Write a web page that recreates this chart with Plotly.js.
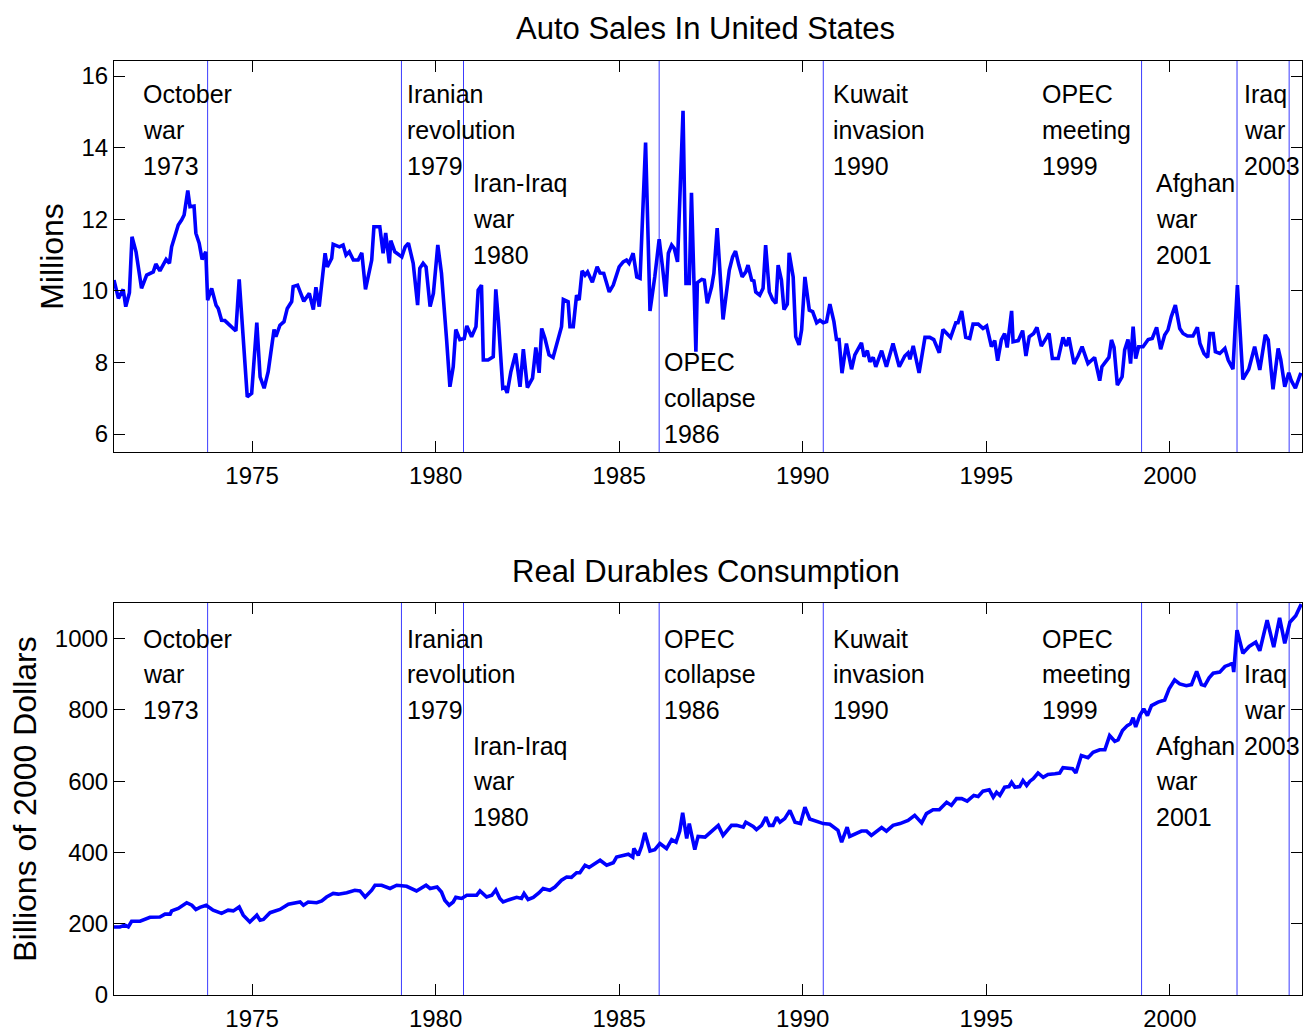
<!DOCTYPE html>
<html>
<head>
<meta charset="utf-8">
<script src="https://cdn.plot.ly/plotly-3.0.1.min.js"></script>
<style>html,body{margin:0;padding:0;background:#fff;}#chart{width:1303px;height:1033px;}</style>
</head>
<body>
<div id="chart"></div>
<script>
// ---- Data ----
const autoYear = [1971.24,1971.36,1971.49,1971.56,1971.66,1971.73,1971.84,1971.99,1972.13,1972.22,1972.31,1972.38,1972.49,1972.66,1972.75,1972.81,1972.90,1972.99,1973.08,1973.15,1973.25,1973.31,1973.42,1973.47,1973.56,1973.64,1973.74,1973.79,1973.90,1974.02,1974.08,1974.17,1974.26,1974.40,1974.56,1974.65,1974.75,1974.81,1974.87,1974.99,1975.13,1975.22,1975.33,1975.44,1975.60,1975.65,1975.76,1975.87,1975.96,1976.08,1976.12,1976.24,1976.41,1976.56,1976.67,1976.74,1976.83,1976.99,1977.05,1977.17,1977.21,1977.38,1977.48,1977.56,1977.65,1977.76,1977.89,1977.99,1978.09,1978.26,1978.32,1978.48,1978.57,1978.64,1978.74,1978.78,1978.89,1979.08,1979.17,1979.26,1979.39,1979.51,1979.57,1979.66,1979.74,1979.85,1979.94,1980.06,1980.16,1980.30,1980.39,1980.48,1980.55,1980.66,1980.78,1980.85,1980.98,1981.10,1981.16,1981.25,1981.30,1981.43,1981.57,1981.64,1981.71,1981.83,1981.89,1981.95,1982.05,1982.18,1982.30,1982.39,1982.50,1982.64,1982.73,1982.82,1982.89,1982.98,1983.09,1983.20,1983.43,1983.48,1983.61,1983.66,1983.75,1983.84,1983.91,1983.99,1984.07,1984.14,1984.27,1984.40,1984.48,1984.58,1984.73,1984.84,1985.00,1985.11,1985.20,1985.27,1985.38,1985.48,1985.57,1985.72,1985.84,1985.97,1986.09,1986.18,1986.27,1986.34,1986.43,1986.50,1986.59,1986.74,1986.82,1986.91,1986.97,1987.09,1987.13,1987.25,1987.32,1987.40,1987.52,1987.58,1987.67,1987.83,1988.00,1988.09,1988.17,1988.26,1988.35,1988.45,1988.51,1988.61,1988.67,1988.72,1988.83,1988.92,1988.99,1989.09,1989.18,1989.27,1989.33,1989.42,1989.49,1989.58,1989.63,1989.74,1989.81,1989.90,1989.97,1990.06,1990.18,1990.27,1990.38,1990.47,1990.56,1990.65,1990.74,1990.85,1990.92,1990.99,1991.07,1991.19,1991.33,1991.42,1991.60,1991.67,1991.76,1991.83,1991.92,1991.99,1992.15,1992.28,1992.46,1992.63,1992.78,1992.87,1992.92,1993.01,1993.17,1993.33,1993.46,1993.57,1993.72,1993.82,1993.93,1994.03,1994.17,1994.23,1994.33,1994.44,1994.55,1994.64,1994.78,1994.91,1995.01,1995.14,1995.23,1995.31,1995.41,1995.50,1995.57,1995.69,1995.73,1995.87,1995.99,1996.08,1996.17,1996.29,1996.38,1996.50,1996.59,1996.71,1996.80,1996.96,1997.09,1997.18,1997.25,1997.39,1997.50,1997.61,1997.77,1997.95,1998.09,1998.15,1998.34,1998.41,1998.48,1998.57,1998.70,1998.77,1998.86,1998.93,1999.00,1999.07,1999.15,1999.27,1999.41,1999.52,1999.64,1999.75,1999.86,1999.95,2000.04,2000.15,2000.27,2000.36,2000.48,2000.63,2000.75,2000.82,2000.93,2001.03,2001.09,2001.18,2001.24,2001.36,2001.50,2001.59,2001.72,2001.84,2001.99,2002.15,2002.31,2002.45,2002.60,2002.68,2002.81,2002.95,2003.02,2003.13,2003.24,2003.31,2003.42,2003.57];
const autoSales = [10.30,9.79,10.04,9.56,9.95,11.51,11.09,10.07,10.44,10.50,10.53,10.75,10.56,10.88,10.77,11.23,11.51,11.84,11.98,12.12,12.80,12.35,12.37,11.61,11.33,10.88,11.09,9.74,10.07,9.60,9.51,9.18,9.17,9.04,8.88,10.32,8.91,8.16,7.04,7.14,9.11,7.60,7.28,7.74,8.92,8.72,9.04,9.14,9.51,9.70,10.12,10.16,9.71,9.93,9.48,10.10,9.56,11.05,10.67,10.91,11.30,11.23,11.28,11.00,11.09,10.86,10.86,11.06,10.04,10.86,11.79,11.79,11.05,11.62,10.77,11.40,11.09,10.95,11.23,11.33,10.77,9.60,10.63,10.77,10.67,9.56,9.93,11.28,10.49,8.63,7.32,7.88,8.92,8.64,8.67,9.02,8.72,9.00,10.02,10.16,8.07,8.07,8.16,10.04,9.18,7.28,7.30,7.15,7.74,8.25,7.32,8.37,7.30,7.56,8.42,7.71,8.95,8.67,8.21,8.14,9.00,9.76,9.70,9.00,9.00,9.88,9.74,10.56,10.44,10.53,10.24,10.67,10.50,10.49,9.97,10.16,10.67,10.81,10.86,10.77,11.05,10.39,10.35,14.14,9.44,10.39,11.44,10.67,9.84,11.05,11.28,11.19,10.81,15.03,10.21,10.21,12.74,8.30,10.23,10.32,10.30,9.65,10.12,10.49,11.75,9.20,10.58,10.95,11.11,10.72,10.39,10.53,10.72,10.30,10.28,9.97,9.88,10.07,11.28,9.97,9.76,9.65,10.72,10.30,9.48,9.63,11.06,10.39,8.72,8.49,8.91,10.39,9.46,9.42,9.11,9.18,9.11,9.14,9.63,9.14,8.64,8.64,7.70,8.53,7.81,8.21,8.55,8.16,8.33,8.02,8.14,7.88,8.33,7.88,8.53,7.88,8.18,8.27,8.09,8.46,7.71,8.70,8.70,8.64,8.27,8.92,8.81,8.70,9.11,9.11,9.44,8.70,8.67,9.07,9.07,8.95,9.02,8.44,8.61,8.05,8.63,8.81,8.42,9.44,8.58,8.61,8.89,8.18,8.72,8.81,8.98,8.46,8.61,8.81,8.11,8.11,8.70,8.46,8.70,7.96,8.18,8.44,7.97,8.14,7.49,7.88,8.14,8.63,8.42,7.37,7.60,8.35,8.64,7.97,9.00,8.11,8.44,8.44,8.64,8.67,8.98,8.37,8.77,8.91,9.28,9.60,8.95,8.81,8.74,8.74,8.98,8.53,8.25,8.14,8.81,8.81,8.30,8.25,8.39,8.07,7.81,10.16,7.53,7.81,8.44,7.79,8.77,8.63,7.25,8.39,8.09,7.32,7.71,7.49,7.28,7.71];

const durYear = [1971.24,1971.40,1971.54,1971.63,1971.72,1971.95,1972.22,1972.49,1972.63,1972.77,1972.81,1972.99,1973.22,1973.36,1973.47,1973.58,1973.75,1973.94,1974.17,1974.35,1974.49,1974.65,1974.76,1974.94,1975.13,1975.22,1975.31,1975.49,1975.76,1975.99,1976.31,1976.40,1976.53,1976.76,1976.90,1977.03,1977.21,1977.35,1977.58,1977.80,1977.94,1978.08,1978.26,1978.35,1978.53,1978.67,1978.76,1978.94,1979.21,1979.48,1979.74,1979.85,1980.04,1980.16,1980.25,1980.37,1980.48,1980.55,1980.71,1980.85,1981.12,1981.21,1981.39,1981.53,1981.64,1981.75,1981.84,1982.02,1982.21,1982.34,1982.41,1982.52,1982.66,1982.82,1982.93,1983.11,1983.25,1983.43,1983.57,1983.70,1983.84,1983.93,1984.07,1984.18,1984.34,1984.48,1984.66,1984.84,1984.93,1985.11,1985.25,1985.37,1985.40,1985.52,1985.61,1985.70,1985.84,1985.97,1986.11,1986.29,1986.43,1986.55,1986.65,1986.73,1986.84,1986.91,1987.00,1987.06,1987.15,1987.34,1987.47,1987.70,1987.83,1988.06,1988.20,1988.38,1988.45,1988.65,1988.74,1988.88,1989.00,1989.09,1989.19,1989.29,1989.38,1989.51,1989.65,1989.79,1989.94,1990.06,1990.19,1990.38,1990.56,1990.74,1990.96,1991.06,1991.21,1991.28,1991.47,1991.60,1991.74,1991.87,1992.15,1992.28,1992.46,1992.65,1992.87,1993.05,1993.24,1993.37,1993.55,1993.72,1993.92,1994.05,1994.19,1994.33,1994.48,1994.66,1994.78,1994.91,1995.08,1995.19,1995.28,1995.37,1995.50,1995.62,1995.69,1995.78,1995.91,1996.00,1996.10,1996.19,1996.28,1996.41,1996.55,1996.68,1996.87,1997.00,1997.09,1997.23,1997.35,1997.44,1997.59,1997.77,1997.91,1998.09,1998.23,1998.36,1998.50,1998.59,1998.71,1998.84,1998.93,1999.00,1999.07,1999.18,1999.29,1999.39,1999.50,1999.68,1999.86,1999.98,2000.13,2000.27,2000.45,2000.59,2000.73,2000.86,2000.95,2001.07,2001.18,2001.36,2001.50,2001.63,2001.71,2001.74,2001.83,2001.99,2002.16,2002.34,2002.45,2002.65,2002.83,2002.99,2003.13,2003.27,2003.43,2003.58];
const durCons = [191,191,196,191,207,207,218,219,227,227,236,243,259,252,240,246,252,238,229,238,236,247,224,205,224,210,212,231,240,255,261,252,261,259,264,275,285,283,287,294,292,275,294,308,308,303,299,308,305,292,308,299,303,289,266,252,261,274,271,280,280,292,275,280,295,271,261,268,274,271,285,268,274,287,299,294,303,322,331,330,343,343,364,358,369,378,364,371,387,392,395,387,411,392,417,455,404,408,425,411,436,429,460,511,439,481,439,408,445,443,455,476,448,476,476,471,485,473,464,476,499,476,476,499,485,495,518,485,481,527,494,488,481,479,462,429,471,445,455,460,460,448,470,460,476,481,490,504,483,509,520,520,541,532,551,551,544,560,557,572,576,555,569,560,583,585,597,583,585,602,588,600,607,623,611,619,621,623,638,635,635,623,672,666,681,688,688,728,712,716,742,756,761,778,752,784,803,784,812,822,828,859,884,873,868,871,908,871,868,890,903,906,922,927,931,906,1024,959,978,990,966,1052,976,1058,987,1046,1064,1097];

// Events: date of vertical line and label lines
const eventYear = [1973.79, 1979.07, 1980.76, 1986.09, 1990.56, 1999.23, 2001.83, 2003.25];
const eventLabel = [
  ["October","war","1973"],
  ["Iranian","revolution","1979"],
  ["Iran-Iraq","war","1980"],
  ["OPEC","collapse","1986"],
  ["Kuwait","invasion","1990"],
  ["OPEC","meeting","1999"],
  ["Afghan","war","2001"],
  ["Iraq","war","2003"]
];
const xTickVals = [1975, 1980, 1985, 1990, 1995, 2000];
const topTickVals = [6, 8, 10, 12, 14, 16];
const botTickVals = [0, 200, 400, 600, 800, 1000];
const titleTop = "Auto Sales In United States";
const titleBot = "Real Durables Consumption";
const yTitleTop = "Millions";
const yTitleBot = "Billions of 2000 Dollars";

// ---- Placement (styling) ----
const labelX = [1972.0, 1979.2, 1981.0, 1986.2, 1990.8, 1996.5, 1999.6, 2002.0];
const topFirstRow = [15.5, 15.5, 13.0, 8.0, 15.5, 15.5, 13.0, 15.5];
const topRowStep = 1.0;
const botFirstRow = [1000, 1000, 700, 1000, 1000, 1000, 700, 900];
const botRowStep = 100;

const FONT = "Liberation Sans, Arial, Helvetica, sans-serif";
const blue = "rgb(0,0,255)";
const eventBlue = "rgb(60,60,255)";

const traces = [
  {x: autoYear, y: autoSales, xaxis: "x", yaxis: "y", type: "scatter", mode: "lines",
   line: {color: blue, width: 3.6}, hoverinfo: "skip"},
  {x: durYear, y: durCons, xaxis: "x2", yaxis: "y2", type: "scatter", mode: "lines",
   line: {color: blue, width: 3.6}, hoverinfo: "skip"}
];

const shapes = [];
eventYear.forEach(function (yr) {
  shapes.push({type: "line", xref: "x", yref: "y domain", x0: yr, x1: yr, y0: 0, y1: 1,
               line: {color: eventBlue, width: 1}, layer: "below"});
  shapes.push({type: "line", xref: "x2", yref: "y2 domain", x0: yr, x1: yr, y0: 0, y1: 1,
               line: {color: eventBlue, width: 1}, layer: "below"});
});

const annotations = [];
eventLabel.forEach(function (lines, i) {
  lines.forEach(function (t, r) {
    annotations.push({xref: "x", yref: "y", x: labelX[i], y: topFirstRow[i] - r * topRowStep,
      text: t, showarrow: false, xanchor: "left", yanchor: "middle", borderpad: 0,
      font: {family: FONT, size: 25, color: "#000"}});
    annotations.push({xref: "x2", yref: "y2", x: labelX[i], y: botFirstRow[i] - r * botRowStep,
      text: t, showarrow: false, xanchor: "left", yanchor: "middle", borderpad: 0,
      font: {family: FONT, size: 25, color: "#000"}});
  });
});
annotations.push({xref: "x domain", yref: "y domain", x: 0.5, y: 1.0, yshift: 33, xshift: -3, text: titleTop,
  showarrow: false, xanchor: "center", yanchor: "middle", font: {family: FONT, size: 31, color: "#000"}});
annotations.push({xref: "x2 domain", yref: "y2 domain", x: 0.5, y: 1.0, yshift: 32, xshift: -2, text: titleBot,
  showarrow: false, xanchor: "center", yanchor: "middle", font: {family: FONT, size: 31, color: "#000"}});

function xAxis(anchor) {
  return {anchor: anchor, range: [1971.24, 2003.6], tickvals: xTickVals, ticktext: xTickVals.map(String),
    ticks: "inside", ticklen: 11, tickwidth: 1, tickcolor: "#000", showline: true, linecolor: "#000",
    linewidth: 1, mirror: "ticks", showgrid: false, zeroline: false, ticklabelstandoff: 2,
    tickfont: {family: FONT, size: 24, color: "#000"}};
}
function yAxis(anchor, range, vals, title, domain, standoff) {
  return {anchor: anchor, domain: domain, range: range, tickvals: vals, ticktext: vals.map(String),
    ticks: "inside", ticklen: 11, tickwidth: 1, tickcolor: "#000", showline: true, linecolor: "#000",
    linewidth: 1, mirror: "ticks", showgrid: false, zeroline: false,
    tickfont: {family: FONT, size: 24, color: "#000"},
    title: {text: title, font: {family: FONT, size: 32, color: "#000"}, standoff: standoff}};
}

const layout = {
  width: 1303, height: 1033,
  margin: {l: 114, r: 1, t: 61, b: 38, pad: 0},
  paper_bgcolor: "#fff", plot_bgcolor: "#fff",
  showlegend: false,
  xaxis: xAxis("y"),
  yaxis: yAxis("x", [5.5, 16.42], topTickVals, yTitleTop, [0.5814, 1], 8),
  xaxis2: xAxis("y2"),
  yaxis2: yAxis("x2", [0, 1100], botTickVals, yTitleBot, [0, 0.4197], 8),
  shapes: shapes,
  annotations: annotations
};

Plotly.newPlot("chart", traces, layout, {staticPlot: true, displayModeBar: false});
</script>
</body>
</html>
